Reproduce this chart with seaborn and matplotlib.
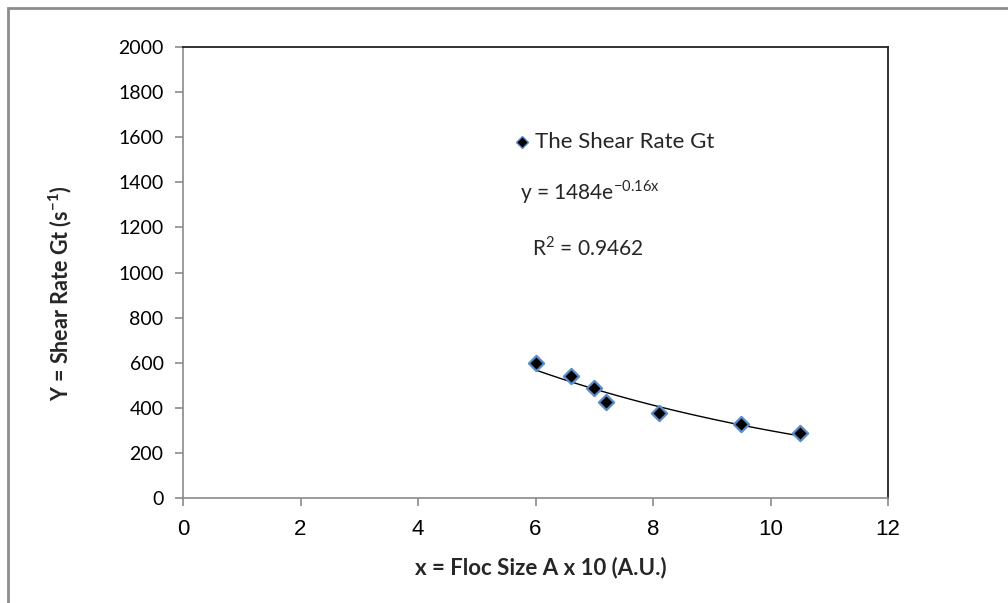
import numpy as np
import pandas as pd
import matplotlib
matplotlib.use("Agg")
import matplotlib.pyplot as plt
import seaborn as sns
from matplotlib.patches import Rectangle

# Data
floc_size = [6.0, 6.6, 7.0, 7.2, 8.1, 9.5, 10.5]
shear_rate = [600, 540, 490, 425, 378, 327, 287]
x_ticks = [0, 2, 4, 6, 8, 10, 12]
y_ticks = [0, 200, 400, 600, 800, 1000, 1200, 1400, 1600, 1800, 2000]

df = pd.DataFrame({"x": floc_size, "y": shear_rate})

# Exponential trendline fitted from the data
b, loga = np.polyfit(df["x"], np.log(df["y"]), 1)
xs = np.linspace(min(floc_size), max(floc_size), 100)
trend = pd.DataFrame({"x": xs, "y": np.exp(loga) * np.exp(b * xs)})

sns.set_style("white")
plt.rcParams['font.family'] = ['Lato', 'DejaVu Sans']

fig = plt.figure(figsize=(10.08, 6.03), dpi=100)
ax = fig.add_axes([183/1008, 1-498/603, (888-183)/1008, (498-47)/603])

sns.lineplot(data=trend, x="x", y="y", ax=ax, color="black", lw=1.0)
sns.scatterplot(data=df, x="x", y="y", ax=ax, marker="D", s=60,
                color="black", edgecolor="#5B8CC8", linewidth=1.6, zorder=5)

ax.set_xlim(0, 12)
ax.set_ylim(0, 2000)
ax.set_xticks(x_ticks)
ax.set_yticks(y_ticks)
ax.set_xticklabels([str(t) for t in x_ticks], family="Liberation Sans", fontsize=16)
ax.set_yticklabels([str(t) for t in y_ticks], fontsize=14)
ax.set_xlabel("")
ax.set_ylabel("")

for s in ["left", "bottom"]:
    ax.spines[s].set_color("#8a8a8a")
    ax.spines[s].set_linewidth(1.2)
for s in ["top", "right"]:
    ax.spines[s].set_color("#222222")
    ax.spines[s].set_linewidth(1.3)
ax.tick_params(axis="both", direction="out", length=6, width=1.2, color="#8a8a8a",
               labelcolor="black", bottom=True, left=True)
ax.tick_params(axis="x", pad=9)
ax.tick_params(axis="y", pad=8)

fig.text(541/1008, 1-568/603, "x = Floc Size A x 10 (A.U.)", ha="center", va="center",
         fontsize=16, fontweight="bold")
fig.text(60/1008, 1-293/603, "Y = Shear Rate Gt (s$^{\\mathregular{-1}}$)", ha="center", va="center",
         rotation=90, fontsize=15.5, fontweight="bold")

# Legend-like annotation
fig.text(535/1008, 1-142/603, "The Shear Rate Gt", ha="left", va="center", fontsize=16)
ax.plot([(522-183)/(888-183)], [(498-142)/(498-47)], transform=ax.transAxes, marker="D",
        ms=6, color="black", mec="#5B8CC8", mew=1.0, clip_on=False)
fig.text(520/1008, 1-192/603, "y = 1484e$^{\\mathregular{-0.16x}}$", ha="left", va="center", fontsize=15)
fig.text(532/1008, 1-248/603, "R$^{\\mathregular{2}}$ = 0.9462", ha="left", va="center", fontsize=15)

fig.patches.append(Rectangle((8/1008, -0.1), 1.2, 1-8/603+0.1, transform=fig.transFigure,
                             fill=False, edgecolor="#8c8c8c", lw=2.0))

fig.savefig("out.png", dpi=100)
